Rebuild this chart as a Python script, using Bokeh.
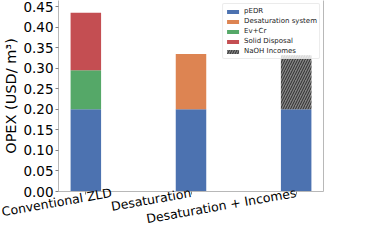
import math
from bokeh.plotting import figure
from bokeh.models import Range1d, FixedTicker, Legend, LegendItem, LinearAxis, ColumnDataSource
from bokeh.transform import stack
from bokeh.embed import file_html
from bokeh.resources import INLINE

categories = ["Conventional ZLD", "Desaturation", "Desaturation + Incomes"]
pedr = [0.20, 0.20, 0.20]
desat_system = [0.0, 0.135, 0.0]
ev_cr = [0.095, 0.0, 0.0]
solid_disposal = [0.140, 0.0, 0.0]
naoh_incomes = [0.0, 0.0, 0.132]
y_ticks = [0.0, 0.05, 0.10, 0.15, 0.20, 0.25, 0.30, 0.35, 0.40, 0.45]
y_top = 0.465

x = list(range(len(categories)))
src = ColumnDataSource(dict(x=x, pEDR=pedr, Desat=desat_system, EvCr=ev_cr,
                            Solid=solid_disposal, NaOH=naoh_incomes))

p = figure(width=366, height=236, output_backend="svg", toolbar_location=None,
           x_range=Range1d(-0.26, 2.26), y_range=Range1d(0, y_top),
           min_border_left=45, min_border_right=43, min_border_top=0, min_border_bottom=36)

W = 0.29
colors = {"pEDR": "#4c72b0", "Desat": "#dd8452", "EvCr": "#55a868", "Solid": "#c44e52"}
r_p = p.vbar(x="x", top="pEDR", bottom=0, width=W, source=src,
             fill_color=colors["pEDR"], line_color=None)
r_d = p.vbar(x="x", top=stack("pEDR", "Desat"), bottom=stack("pEDR"), width=W, source=src,
             fill_color=colors["Desat"], line_color=None)
r_e = p.vbar(x="x", top=stack("pEDR", "EvCr"), bottom=stack("pEDR"), width=W, source=src,
             fill_color=colors["EvCr"], line_color=None)
r_s = p.vbar(x="x", top=stack("pEDR", "EvCr", "Solid"), bottom=stack("pEDR", "EvCr"), width=W,
             source=src, fill_color=colors["Solid"], line_color=None)
r_n = p.vbar(x="x", top=stack("pEDR", "NaOH"), bottom=stack("pEDR"), width=W, source=src,
             fill_color="#858585", line_color=None, hatch_pattern="/", hatch_color="#2b2b2b",
             hatch_scale=5, hatch_weight=1)

p.xgrid.visible = False
p.ygrid.visible = False
p.outline_line_color = None
p.background_fill_color = "white"
p.border_fill_color = "white"

font = "DejaVu Sans"
spine = "#b8b8b8"
p.xaxis.ticker = FixedTicker(ticks=x)
p.xaxis.major_label_overrides = {i: c for i, c in enumerate(categories)}
p.xaxis.major_label_orientation = math.radians(10)
p.xaxis.major_label_text_font_size = "12.5px"
p.xaxis.major_label_text_font = font
p.xaxis.major_label_text_color = "black"
p.xaxis.major_label_standoff = -2
p.xaxis.axis_line_color = spine
p.xaxis.major_tick_line_color = "#808080"
p.xaxis.major_tick_out = 3
p.xaxis.major_tick_in = 0
p.xaxis.minor_tick_line_color = None

p.yaxis.ticker = FixedTicker(ticks=y_ticks)
p.yaxis.major_label_overrides = {t: f"{t:.2f}" for t in y_ticks}
p.yaxis.major_label_text_font_size = "13.5px"
p.yaxis.major_label_text_font = font
p.yaxis.major_label_text_color = "black"
p.yaxis.axis_line_color = spine
p.yaxis.major_tick_line_color = "#808080"
p.yaxis.major_tick_out = 3
p.yaxis.major_tick_in = 0
p.yaxis.minor_tick_line_color = None
p.yaxis.axis_label = "OPEX (USD/ m³)"
p.yaxis.axis_label_text_font = font
p.yaxis.axis_label_text_font_size = "14.5px"
p.yaxis.axis_label_text_font_style = "normal"
p.yaxis.axis_label_text_color = "black"
p.yaxis.axis_label_standoff = 1
p.yaxis.major_label_standoff = 2

ra = LinearAxis(ticker=FixedTicker(ticks=[]), axis_line_color=spine,
                major_label_text_font_size="0px", major_tick_line_color=None,
                minor_tick_line_color=None)
p.add_layout(ra, "right")

legend = Legend(items=[
    LegendItem(label="pEDR", renderers=[r_p]),
    LegendItem(label="Desaturation system", renderers=[r_d]),
    LegendItem(label="Ev+Cr", renderers=[r_e]),
    LegendItem(label="Solid Disposal", renderers=[r_s]),
    LegendItem(label="NaOH Incomes", renderers=[r_n]),
], location="top_right")
legend.label_text_font_size = "7px"
legend.label_text_font = font
legend.label_text_color = "#222222"
legend.label_height = 10
legend.glyph_height = 5
legend.glyph_width = 15
legend.spacing = 0
legend.padding = 2
legend.margin = 3
legend.label_standoff = 4
legend.border_line_color = "#d8d8d8"
legend.border_radius = 2
legend.background_fill_alpha = 0.8
p.add_layout(legend)

open("out.html", "w").write(file_html(p, INLINE))
